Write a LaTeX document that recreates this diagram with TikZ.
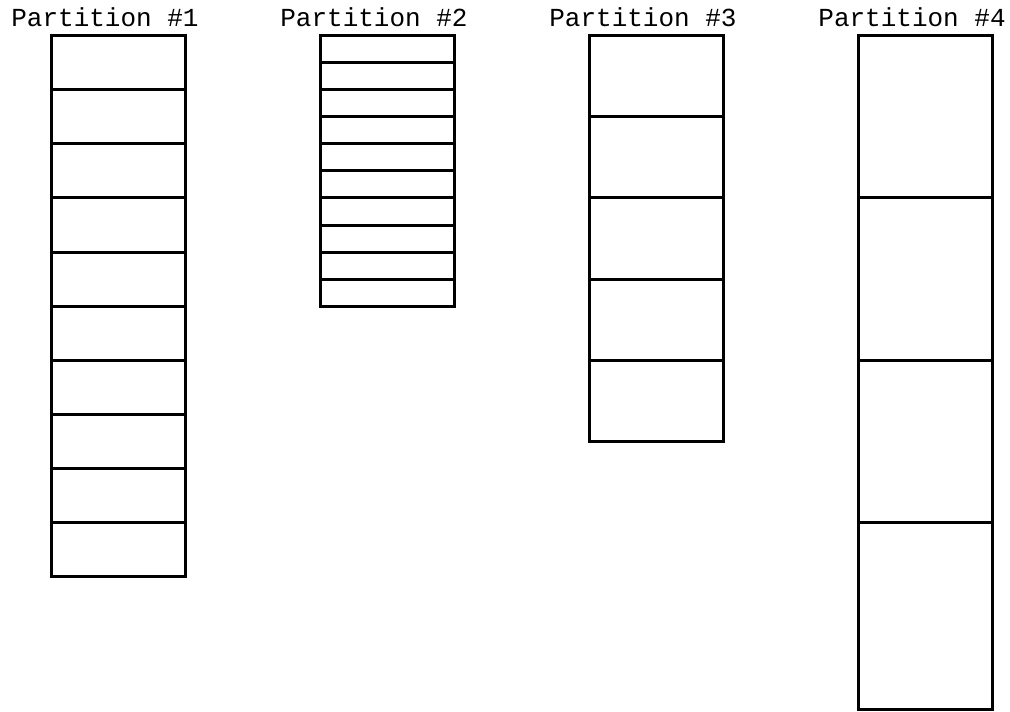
\documentclass[tikz,border=0pt]{standalone}
\usepackage{fontspec}
\setmonofont{Liberation Mono}
\usetikzlibrary{positioning}

\begin{document}
\begin{tikzpicture}[
    x=0.5pt, y=-0.5pt,
    cell/.style={draw, line width=1.5pt, minimum width=67pt, inner sep=0pt, outer sep=0pt},
    title/.style={font=\ttfamily\fontsize{13pt}{15pt}\selectfont, anchor=base, inner sep=0pt}
]
\useasboundingbox (0,0) rectangle (1010,711);
% partition / left edge / cells / cell height
\foreach \p/\x/\n/\h in {1/51/10/54, 2/320/10/27, 3/589/5/81, 4/858/3/162} {
  \node[title] (title\p) at (\x+54,27) {Partition \#\p};
  \foreach \i in {1,...,\n}
    \node[cell, minimum height=\h*0.5pt] (p\p c\i) at (\x+67, 36+\h*\i-\h/2) {};
}
% last cell of partition 4 is taller
\node[cell, minimum height=93.5pt, below=0pt of p4c3] (p4c4) {};
\end{tikzpicture}
\end{document}
